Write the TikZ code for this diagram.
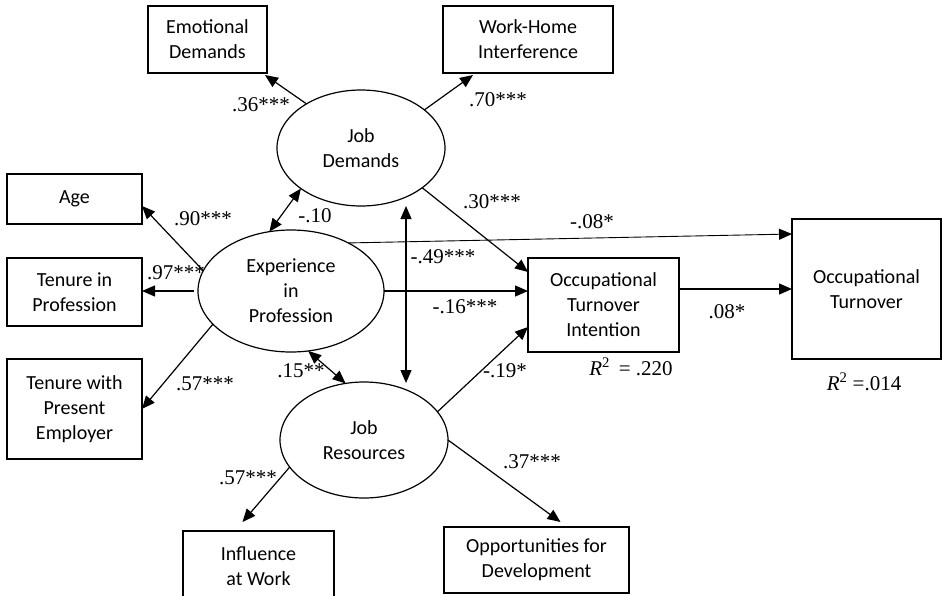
\documentclass[tikz,border=0pt]{standalone}
\usepackage{fontspec}
\setmainfont{Liberation Serif}
\newfontfamily\boxfont{Carlito}
\usetikzlibrary{shapes.geometric,arrows.meta,calc}
\begin{document}
\begin{tikzpicture}[x=1pt,y=-1pt,
  every node/.style={inner sep=0pt,outer sep=0pt},
  var/.style={draw,line width=1.2pt,rectangle,align=center,font=\boxfont\fontsize{20}{25}\selectfont},
  lat/.style={draw,line width=1.2pt,ellipse,align=center,font=\boxfont\fontsize{20}{25}\selectfont},
  lbl/.style={font=\fontsize{21}{24}\selectfont},
  arr/.style={line width=1.2pt,-{Triangle[length=13pt,width=11pt]}},
  darr/.style={line width=1.2pt,{Triangle[length=13pt,width=11pt]}-{Triangle[length=13pt,width=11pt]}},
  thin arr/.style={line width=0.9pt,-{Triangle[length=13pt,width=11pt]}}]
\useasboundingbox (0,0) rectangle (942,595);
\begin{scope}
\clip (0,0) rectangle (942,595);
% observed variables
\node[var,minimum width=119pt,minimum height=67pt] (emo) at (207.5,39.5) {Emotional\\Demands};
\node[var,minimum width=170pt,minimum height=67pt] (wh) at (528,39.5) {Work-Home\\Interference};
\node[var,minimum width=135pt,minimum height=50pt] (age) at (74.5,199) {Age};
\node[var,minimum width=135pt,minimum height=68pt] (ten) at (74.5,292) {Tenure in\\Profession};
\node[var,minimum width=135pt,minimum height=100pt] (emp) at (74.5,409) {Tenure with\\Present\\Employer};
\node[var,minimum width=151pt,minimum height=94pt] (oti) at (603.5,305) {Occupational\\Turnover\\Intention};
\node[var,minimum width=149pt,minimum height=140pt] (ot) at (866.5,289) {Occupational\\Turnover};
\node[var,minimum width=151pt,minimum height=70pt] (inf) at (258.5,566) {Influence\\at Work};
\node[var,minimum width=185pt,minimum height=66pt] (opp) at (536.5,560) {Opportunities for\\Development};
% latent variables
\node[lat,minimum width=168pt,minimum height=116pt] (jd) at (361,148) {Job\\Demands};
\node[lat,minimum width=186pt,minimum height=122pt] (exp) at (291,291) {Experience\\in\\Profession};
\node[lat,minimum width=168pt,minimum height=116pt] (jr) at (364,440) {Job\\Resources};
% coordinates
\coordinate (v1) at (406,206);
\coordinate (v2) at (406,383);
% connectors
\draw[arr] (jd.141) -- ([xshift=-2pt,yshift=-2pt]emo.south east);
\draw[arr] (jd.31) -- ([xshift=-140pt,yshift=-2pt]wh.south east);
\draw[darr] (jd.-146) -- (exp.110);
\draw[darr] (v1) -- (v2);
\draw[arr] (exp.167) -- ([yshift=-7pt]age.east);
\draw[arr] ([xshift=-4pt]exp.west) -- (exp.west -| ten.east);
\draw[arr] (exp.-157) -- (emp.east);
\draw[darr] (exp.-74) -- (jr.108);
\draw[thin arr] (exp.40) -- ([yshift=-15pt]ot.north west);
\draw[arr] (exp.east) -- (exp.east -| oti.west);
\draw[arr] (jd.-33) -- ([yshift=-14pt]oti.north west);
\draw[arr] (jr.21) -- ([yshift=25pt]oti.south west);
\draw[arr] (ot.west -| oti.east) -- (ot.west);
\draw[arr] (jr.-160) -- ([xshift=-16pt,yshift=9pt]inf.north);
\draw[arr] (jr.east) -- ([xshift=24pt,yshift=5pt]opp.north);
% labels
\node[lbl] (l1) at (261,105) {.36***};
\node[lbl] (l2) at (498,100) {.70***};
\node[lbl] (l3) at (315,216) {-.10};
\node[lbl] (l4) at (203,219) {.90***};
\node[lbl] (l5) at (176,273) {.97***};
\node[lbl] (l6) at (205,384) {.57***};
\node[lbl] (l7) at (301,371) {.15**};
\node[lbl] (l8) at (443,257) {-.49***};
\node[lbl] (l9) at (465,307) {-.16***};
\node[lbl] (l10) at (492,202) {.30***};
\node[lbl] (l11) at (592,222) {-.08*};
\node[lbl] (l12) at (727,312) {.08*};
\node[lbl] (l13) at (505,371) {-.19*};
\node[lbl] (l14) at (631,367) {\textit{R}\textsuperscript{2} \,= .220};
\node[lbl] (l15) at (864,382) {\textit{R}\textsuperscript{2} =.014};
\node[lbl] (l16) at (248,478) {.57***};
\node[lbl] (l17) at (532,462) {.37***};
\end{scope}
\end{tikzpicture}
\end{document}
